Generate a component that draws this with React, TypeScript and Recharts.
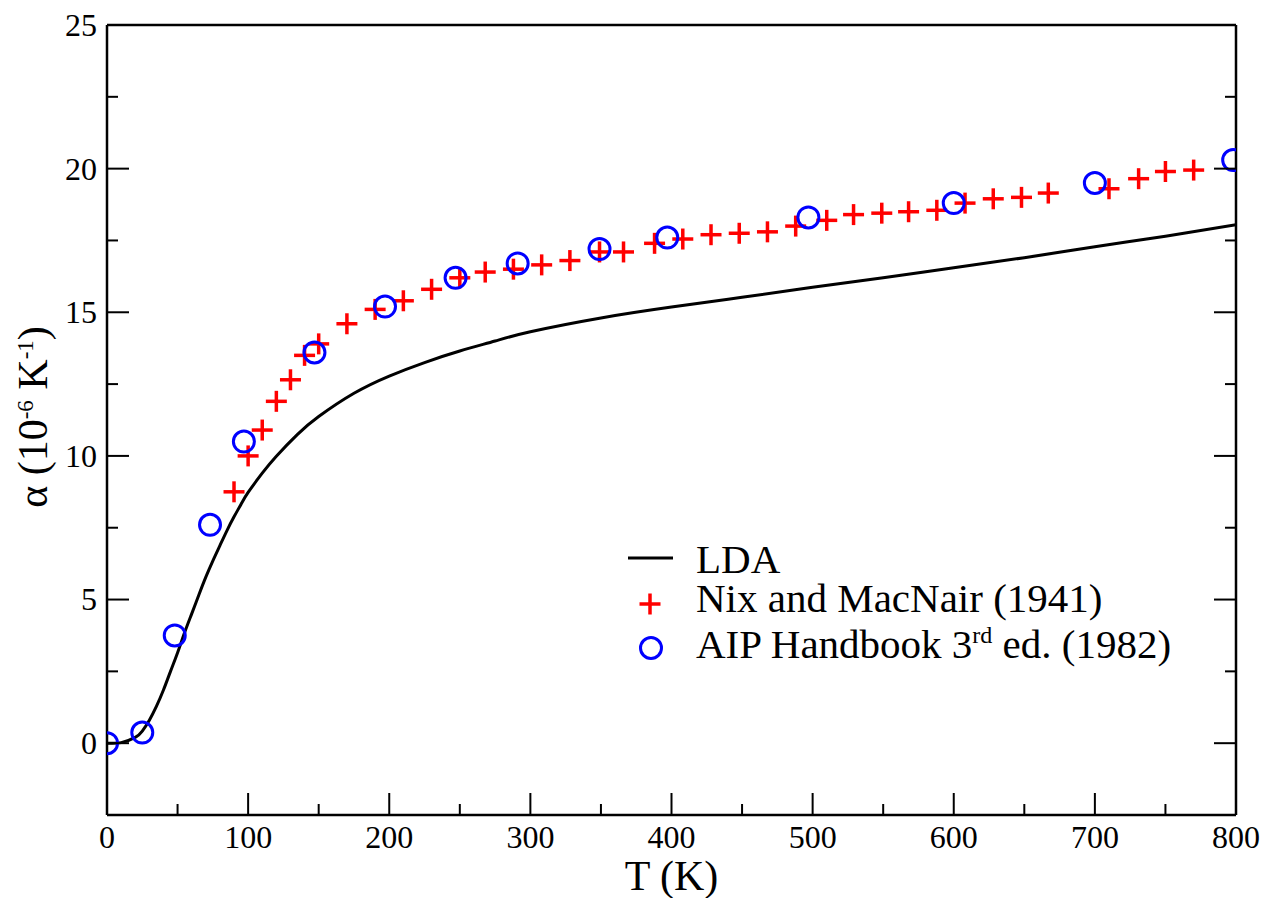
import React from "react";
import { ComposedChart, Line, Scatter, XAxis, YAxis, Legend } from "recharts";

const FONT = '"Liberation Serif", "Times New Roman", serif';

// axis ticks (major every 100 K / 5 units, minor halfway)
const T_TICKS = [0, 50, 100, 150, 200, 250, 300, 350, 400, 450, 500, 550, 600, 650, 700, 750, 800];
const ALPHA_TICKS = [-2.5, 0, 2.5, 5, 7.5, 10, 12.5, 15, 17.5, 20, 22.5, 25];

// LDA curve
const LDA_T = [0, 10, 20, 25, 30, 35, 40, 45, 50, 55, 60, 65, 70, 75, 80, 85, 90, 95, 100, 110, 120, 135, 150, 175, 200, 225, 250, 275, 300, 350, 400, 450, 500, 550, 600, 650, 700, 750, 800];
const LDA_ALPHA = [0, 0.02, 0.2, 0.42, 0.8, 1.28, 1.85, 2.5, 3.15, 3.85, 4.5, 5.15, 5.78, 6.35, 6.88, 7.4, 7.88, 8.32, 8.73, 9.4, 9.99, 10.75, 11.37, 12.18, 12.78, 13.25, 13.65, 14.0, 14.32, 14.8, 15.18, 15.52, 15.87, 16.2, 16.55, 16.9, 17.28, 17.65, 18.05];

// Nix and MacNair (1941)
const NIX_T = [90, 100, 110, 120, 130, 140, 150, 170, 190, 210, 230, 250, 268, 288, 308, 328, 349, 366, 388, 408, 428, 448, 468, 488, 510, 529, 549, 568, 588, 608, 628, 648, 667, 710, 731, 750, 770];
const NIX_ALPHA = [8.75, 10.0, 10.9, 11.9, 12.65, 13.5, 13.9, 14.6, 15.1, 15.4, 15.8, 16.2, 16.4, 16.5, 16.65, 16.8, 17.1, 17.1, 17.4, 17.55, 17.7, 17.75, 17.8, 18.0, 18.2, 18.4, 18.45, 18.5, 18.55, 18.8, 18.95, 19.0, 19.15, 19.3, 19.65, 19.9, 19.95];

// AIP Handbook 3rd ed. (1982)
const AIP_T = [0, 25, 48, 73, 97, 147, 197, 247, 291, 349, 397, 497, 600, 700, 798];
const AIP_ALPHA = [0, 0.37, 3.75, 7.6, 10.5, 13.6, 15.2, 16.2, 16.7, 17.2, 17.6, 18.3, 18.8, 19.5, 20.3];

const toRows = (ts: number[], as: number[]) => ts.map((T, i) => ({ T, a: as[i] }));

const ldaRows = toRows(LDA_T, LDA_ALPHA);
const nixRows = toRows(NIX_T, NIX_ALPHA);
const aipRows = toRows(AIP_T, AIP_ALPHA);

const RED = "#ff0000";
const BLUE = "#0000ff";
const MAJOR = 22;
const MINOR = 11;

function BottomTick({ x, y, payload }: any) {
  const v = payload.value;
  const major = v % 100 === 0;
  return (
    <g>
      <line x1={x} x2={x} y1={y} y2={y - (major ? MAJOR : MINOR)} stroke="#000" strokeWidth={2} />
      {major && (
        <text x={x} y={y + 33} textAnchor="middle" fontSize={32} fontFamily={FONT} fill="#000">
          {v}
        </text>
      )}
    </g>
  );
}

function TopTick({ x, y, payload }: any) {
  const major = payload.value % 100 === 0;
  return <line x1={x} x2={x} y1={y} y2={y + (major ? MAJOR : MINOR)} stroke="#000" strokeWidth={2} />;
}

function LeftTick({ x, y, payload }: any) {
  const v = payload.value;
  const major = v % 5 === 0;
  return (
    <g>
      <line x1={x} x2={x + (major ? MAJOR : MINOR)} y1={y} y2={y} stroke="#000" strokeWidth={2} />
      {major && (
        <text x={x - 10} y={y} dy="0.34em" textAnchor="end" fontSize={32} fontFamily={FONT} fill="#000">
          {v}
        </text>
      )}
    </g>
  );
}

function RightTick({ x, y, payload }: any) {
  const major = payload.value % 5 === 0;
  return <line x1={x} x2={x - (major ? MAJOR : MINOR)} y1={y} y2={y} stroke="#000" strokeWidth={2} />;
}

function Cross({ cx, cy }: any) {
  const h = 10.5;
  return (
    <g>
      <line x1={cx - h} x2={cx + h} y1={cy} y2={cy} stroke={RED} strokeWidth={3.5} />
      <line x1={cx} x2={cx} y1={cy - h} y2={cy + h} stroke={RED} strokeWidth={3.5} />
    </g>
  );
}

function Ring({ cx, cy }: any) {
  return <circle cx={cx} cy={cy} r={10.5} fill="none" stroke={BLUE} strokeWidth={3} />;
}

function XTitle(props: any) {
  const vb = props.viewBox || { x: 107, y: 815, width: 1129 };
  return (
    <text x={vb.x + vb.width / 2} y={vb.y + 75} textAnchor="middle" fontSize={42} fontFamily={FONT} fill="#000">
      T (K)
    </text>
  );
}

function YTitle(props: any) {
  const vb = props.viewBox || { x: 47, y: 25, height: 790 };
  const tx = vb.x;
  const ty = vb.y + vb.height / 2 - 3;
  return (
    <text
      x={tx}
      y={ty}
      transform={`rotate(-90 ${tx} ${ty})`}
      textAnchor="middle"
      fontSize={42}
      fontFamily={FONT}
      fill="#000"
    >
      α (10
      <tspan fontSize={23} dy={-14}>-6</tspan>
      <tspan dy={14}> K</tspan>
      <tspan fontSize={23} dy={-14}>-1</tspan>
      <tspan dy={14}>)</tspan>
    </text>
  );
}

function LegendBox() {
  return (
    <svg width={640} height={160} style={{ display: "block", overflow: "visible" }}>
      <g fontFamily={FONT} fontSize={41} fill="#000">
        <line x1={28} x2={73} y1={38} y2={38} stroke="#000" strokeWidth={3} />
        <text x={96} y={53}>LDA</text>
        <Cross cx={50} cy={84} />
        <text x={96} y={92}>Nix and MacNair (1941)</text>
        <Ring cx={51} cy={128} />
        <text x={96} y={138}>
          AIP Handbook 3<tspan fontSize={24} dy={-15}>rd</tspan>
          <tspan dy={15}> ed. (1982)</tspan>
        </text>
      </g>
    </svg>
  );
}

export default function App() {
  const axisLine = { stroke: "#000", strokeWidth: 2.5 };
  return (
    <div style={{ position: "absolute", left: 0, top: 0, background: "#fff" }}>
      <ComposedChart width={1265} height={898} margin={{ top: 24, right: 28, bottom: 33, left: 47 }}>
        <XAxis
          dataKey="T"
          type="number"
          domain={[0, 800]}
          ticks={T_TICKS}
          interval={0}
          height={50}
          tickSize={0}
          tickMargin={0}
          tick={BottomTick}
          axisLine={axisLine}
          allowDataOverflow
          label={XTitle}
        />
        <XAxis
          xAxisId="top"
          orientation="top"
          type="number"
          domain={[0, 800]}
          ticks={T_TICKS}
          interval={0}
          height={1}
          tickSize={0}
          tickMargin={0}
          tick={TopTick}
          axisLine={axisLine}
          allowDataOverflow
        />
        <YAxis
          type="number"
          domain={[-2.5, 25]}
          ticks={ALPHA_TICKS}
          interval={0}
          width={60}
          tickSize={0}
          tickMargin={0}
          tick={LeftTick}
          axisLine={axisLine}
          allowDataOverflow
          label={YTitle}
        />
        <YAxis
          yAxisId="right"
          orientation="right"
          type="number"
          domain={[-2.5, 25]}
          ticks={ALPHA_TICKS}
          interval={0}
          width={1}
          tickSize={0}
          tickMargin={0}
          tick={RightTick}
          axisLine={axisLine}
          allowDataOverflow
        />
        <Line
          data={ldaRows}
          dataKey="a"
          name="LDA"
          type="natural"
          stroke="#000"
          strokeWidth={3}
          dot={false}
          activeDot={false}
          isAnimationActive={false}
        />
        <Scatter
          data={nixRows}
          dataKey="a"
          name="Nix and MacNair (1941)"
          shape={Cross}
          isAnimationActive={false}
        />
        <Scatter
          data={aipRows}
          dataKey="a"
          name="AIP Handbook 3rd ed. (1982)"
          shape={Ring}
          isAnimationActive={false}
        />
        <Legend
          layout="vertical"
          align="center"
          verticalAlign="middle"
          wrapperStyle={{ left: 600, top: 520, width: 640, height: 160 }}
          content={() => <LegendBox />}
        />
      </ComposedChart>
    </div>
  );
}
